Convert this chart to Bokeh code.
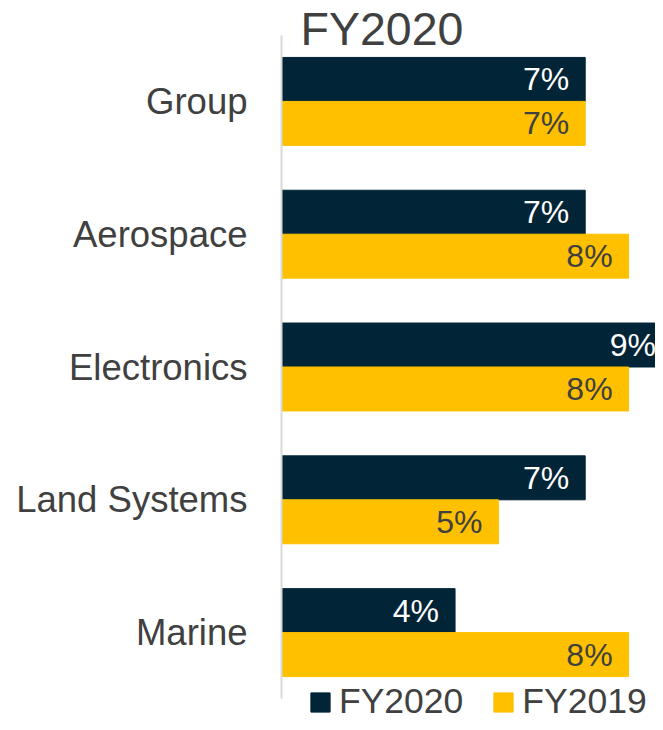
from bokeh.plotting import figure
from bokeh.models import FactorRange, Range1d, ColumnDataSource, Legend, LegendItem, Label
from bokeh.transform import dodge
from bokeh.core.properties import value
from bokeh.embed import file_html
from bokeh.resources import INLINE

categories = ["Group", "Aerospace", "Electronics", "Land Systems", "Marine"]
fy2020 = [7, 7, 9, 7, 4]
fy2019 = [7, 8, 8, 5, 8]
series_names = ["FY2020", "FY2019"]
title_text = "FY2020"

NAVY = "#012436"
GOLD = "#FFC000"
GREY = "#404040"
FONT = "Liberation Sans"

src = ColumnDataSource(dict(
    cat=categories,
    fy2020=fy2020,
    fy2019=fy2019,
    lab2020=[f"{v}%" for v in fy2020],
    lab2019=[f"{v}%" for v in fy2019],
))

p = figure(width=655, height=722,
           y_range=FactorRange(factors=categories[::-1], range_padding=0.177,
                               range_padding_units="absolute"),
           x_range=Range1d(0, 8.62),
           x_axis_location=None,
           output_backend="svg", toolbar_location=None,
           min_border_left=281, min_border_right=0,
           min_border_top=11, min_border_bottom=0)

p.outline_line_color = None
p.xgrid.visible = False
p.ygrid.visible = False

ax = p.yaxis[0]
ax.bounds = (0, len(categories))
ax.axis_line_color = "#d9d9d9"
ax.axis_line_width = 2
ax.major_tick_line_color = None
ax.minor_tick_line_color = None
ax.major_tick_out = 0
ax.major_tick_in = 0
ax.major_label_standoff = 34
ax.major_label_text_font_size = "36.5px"
ax.major_label_text_color = GREY
ax.major_label_text_font = FONT

H = 0.331
off = H / 2
r1 = p.hbar(y=dodge("cat", off, range=p.y_range), left=0, right="fy2020",
            height=H, fill_color=NAVY, line_color=NAVY, source=src)
r2 = p.hbar(y=dodge("cat", -off, range=p.y_range), left=0, right="fy2019",
            height=H, fill_color=GOLD, line_color=GOLD, source=src)

p.text(x="fy2020", y=dodge("cat", off, range=p.y_range), text="lab2020",
       source=src, text_align="right", text_baseline="middle", x_offset=-16,
       text_font_size="32px", text_color="white", text_font=value(FONT))
p.text(x="fy2019", y=dodge("cat", -off, range=p.y_range), text="lab2019",
       source=src, text_align="right", text_baseline="middle", x_offset=-16,
       text_font_size="32px", text_color=GREY, text_font=value(FONT))

p.add_layout(Label(x=19, y=694, x_units="screen", y_units="screen",
                   text=title_text, text_font_size="46.5px", text_color=GREY,
                   text_font=FONT, text_baseline="alphabetic"))

legend = Legend(items=[LegendItem(label=series_names[0], renderers=[r1]),
                       LegendItem(label=series_names[1], renderers=[r2])],
                orientation="horizontal", location=(27, 0),
                glyph_width=24, glyph_height=24, label_standoff=7, spacing=28,
                padding=0, margin=0, border_line_color=None,
                background_fill_alpha=0,
                label_text_font_size="35.5px", label_text_color=GREY,
                label_text_font=FONT)
p.add_layout(legend)

open("out.html", "w").write(file_html(p, INLINE))
